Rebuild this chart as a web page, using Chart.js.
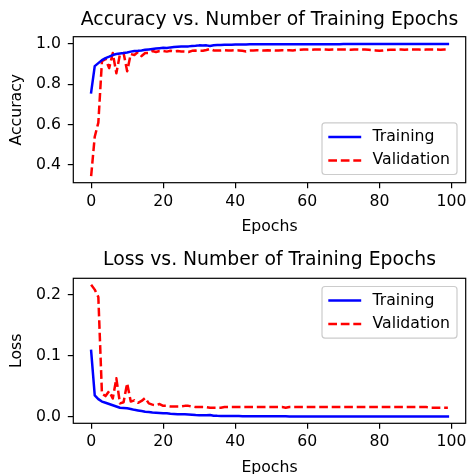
<!DOCTYPE html>
<html><head><meta charset="utf-8">
<script src="https://cdn.jsdelivr.net/npm/chart.js@4.4.1/dist/chart.umd.min.js"></script>
<style>
html,body{margin:0;padding:0;background:#fff;overflow:hidden;width:467px;height:474px;}
canvas{position:absolute;left:0;}
#accChart{top:0;}
#lossChart{top:240px;}
</style></head><body>
<canvas id="accChart" width="467" height="237"></canvas>
<canvas id="lossChart" width="467" height="240"></canvas>
<script>
// ---------------- DATA ----------------
const epochs = Array.from({length: 100}, (_, i) => i);

const trainAcc = [
  0.760, 0.890, 0.905, 0.920, 0.930, 0.937, 0.945, 0.950, 0.953, 0.955,
  0.958, 0.962, 0.965, 0.966, 0.968, 0.971, 0.973, 0.975, 0.977, 0.979,
  0.981, 0.980, 0.983, 0.985, 0.986, 0.987, 0.987, 0.988, 0.990, 0.991,
  0.993, 0.992, 0.993, 0.990, 0.994, 0.995, 0.995, 0.996, 0.996, 0.996,
  0.997, 0.997, 0.997, 0.997, 0.998, 0.998, 0.998, 0.998, 0.998, 0.998,
  0.998, 0.999, 0.999, 0.999, 0.999, 0.999, 0.999, 0.999, 0.999, 0.999,
  0.999, 0.999, 0.999, 0.999, 0.999, 0.999, 0.999, 0.999, 0.999, 0.999,
  1.000, 1.000, 1.000, 1.000, 1.000, 1.000, 1.000, 1.000, 1.000, 1.000,
  1.000, 1.000, 1.000, 1.000, 1.000, 1.000, 1.000, 1.000, 1.000, 1.000,
  1.000, 1.000, 1.000, 1.000, 1.000, 1.000, 1.000, 1.000, 1.000, 1.000
];
const valAcc = [
  0.345, 0.540, 0.610, 0.915, 0.925, 0.880, 0.955, 0.855, 0.950, 0.955,
  0.865, 0.950, 0.945, 0.960, 0.940, 0.955, 0.955, 0.965, 0.960, 0.965,
  0.965, 0.962, 0.966, 0.963, 0.965, 0.963, 0.962, 0.960, 0.966, 0.967,
  0.966, 0.966, 0.970, 0.975, 0.968, 0.967, 0.968, 0.969, 0.967, 0.968,
  0.969, 0.968, 0.966, 0.963, 0.967, 0.968, 0.969, 0.968, 0.967, 0.969,
  0.968, 0.967, 0.968, 0.969, 0.968, 0.969, 0.968, 0.970, 0.971, 0.972,
  0.972, 0.971, 0.972, 0.972, 0.973, 0.972, 0.971, 0.972, 0.972, 0.972,
  0.972, 0.972, 0.971, 0.972, 0.973, 0.972, 0.972, 0.971, 0.970, 0.968,
  0.966, 0.968, 0.970, 0.971, 0.971, 0.972, 0.972, 0.971, 0.972, 0.972,
  0.972, 0.972, 0.971, 0.972, 0.972, 0.972, 0.972, 0.971, 0.972, 0.972
];
const trainLoss = [
  0.108, 0.035, 0.029, 0.025, 0.023, 0.021, 0.019, 0.017, 0.015, 0.0145,
  0.014, 0.013, 0.0115, 0.0105, 0.0095, 0.0085, 0.0078, 0.0070, 0.0068, 0.0065,
  0.0060, 0.0058, 0.0052, 0.0048, 0.0044, 0.0042, 0.0043, 0.0040, 0.0036, 0.0030,
  0.0026, 0.0025, 0.0025, 0.0032, 0.0020, 0.0017, 0.0016, 0.0015, 0.0014, 0.0014,
  0.0013, 0.0013, 0.0012, 0.0012, 0.0012, 0.0011, 0.0011, 0.0011, 0.0010, 0.0010,
  0.0010, 0.0009, 0.0009, 0.0009, 0.0009, 0.0008, 0.0008, 0.0008, 0.0008, 0.0008,
  0.0007, 0.0007, 0.0007, 0.0007, 0.0007, 0.0007, 0.0007, 0.0007, 0.0007, 0.0007,
  0.0007, 0.0007, 0.0006, 0.0006, 0.0006, 0.0006, 0.0006, 0.0006, 0.0006, 0.0006,
  0.0006, 0.0006, 0.0006, 0.0006, 0.0006, 0.0006, 0.0006, 0.0006, 0.0006, 0.0006,
  0.0005, 0.0005, 0.0005, 0.0005, 0.0005, 0.0005, 0.0005, 0.0005, 0.0005, 0.0005
];
const valLoss = [
  0.216, 0.208, 0.196, 0.038, 0.034, 0.042, 0.030, 0.063, 0.022, 0.024,
  0.055, 0.025, 0.027, 0.023, 0.026, 0.031, 0.022, 0.020, 0.019, 0.021,
  0.018, 0.018, 0.017, 0.017, 0.017, 0.017, 0.018, 0.018, 0.017, 0.016,
  0.016, 0.016, 0.016, 0.015, 0.015, 0.015, 0.015, 0.016, 0.016, 0.016,
  0.016, 0.016, 0.016, 0.016, 0.016, 0.016, 0.016, 0.016, 0.016, 0.016,
  0.016, 0.016, 0.016, 0.016, 0.015, 0.016, 0.016, 0.016, 0.016, 0.016,
  0.016, 0.016, 0.016, 0.016, 0.016, 0.016, 0.016, 0.016, 0.016, 0.016,
  0.016, 0.016, 0.016, 0.016, 0.016, 0.016, 0.016, 0.016, 0.016, 0.016,
  0.016, 0.016, 0.016, 0.016, 0.016, 0.016, 0.016, 0.016, 0.016, 0.016,
  0.016, 0.016, 0.016, 0.016, 0.015, 0.015, 0.015, 0.015, 0.015, 0.015
];

const xTicks = [0, 20, 40, 60, 80, 100];
const accTicks = [0.4, 0.6, 0.8, 1.0];
const lossTicks = [0.0, 0.1, 0.2];
const seriesNames = ['Training', 'Validation'];

// ---------------- STYLE ----------------
const FONT = 'DejaVu Sans';
const FS = 15.7;
Chart.defaults.font.family = FONT;
Chart.defaults.font.size = FS;
Chart.defaults.color = '#000';

const framePlugin = {
  id: 'frame',
  afterDatasetsDraw(chart) {
    const {ctx, chartArea: a} = chart;
    ctx.save();
    ctx.strokeStyle = '#000';
    ctx.lineWidth = 1.2;
    ctx.strokeRect(a.left, a.top, a.right - a.left, a.bottom - a.top);
    ctx.restore();
  }
};

const boxLegend = {
  id: 'boxLegend',
  afterDraw(chart, args, opts) {
    const {ctx, chartArea: a} = chart;
    const w = 135, h = 51.6;
    const x = a.right - 8.7 - w;
    const y = opts.corner === 'lower' ? a.bottom - 8.2 - h : a.top + 8.2;
    ctx.save();
    ctx.beginPath();
    ctx.roundRect(x, y, w, h, 3);
    ctx.fillStyle = 'rgba(255,255,255,0.8)';
    ctx.fill();
    ctx.strokeStyle = '#cccccc';
    ctx.lineWidth = 1.2;
    ctx.stroke();
    chart.data.datasets.forEach((ds, i) => {
      const ly = y + 14.1 + i * 23.4;
      ctx.beginPath();
      ctx.setLineDash(ds.borderDash || []);
      ctx.lineCap = 'butt';
      ctx.moveTo(x + 6.3, ly);
      ctx.lineTo(x + 39.2, ly);
      ctx.strokeStyle = ds.borderColor;
      ctx.lineWidth = ds.borderWidth;
      ctx.stroke();
      ctx.setLineDash([]);
      ctx.fillStyle = '#000';
      ctx.font = FS + 'px "' + FONT + '"';
      ctx.textBaseline = 'middle';
      ctx.textAlign = 'left';
      ctx.fillText(ds.label, x + 50.5, ly);
    });
    ctx.restore();
  }
};

function makeChart(id, p) {
  const ctx = document.getElementById(id);
  return new Chart(ctx, {
    type: 'line',
    data: {
      datasets: [
        { label: seriesNames[0], data: epochs.map((e, i) => ({x: e, y: p.train[i]})),
          borderColor: '#0000ff', borderWidth: 2.5, pointRadius: 0, tension: 0,
          borderJoinStyle: 'round', borderCapStyle: 'square', fill: false },
        { label: seriesNames[1], data: epochs.map((e, i) => ({x: e, y: p.val[i]})),
          borderColor: '#ff0000', borderWidth: 2.5, borderDash: [8.7, 3.8], pointRadius: 0, tension: 0,
          borderJoinStyle: 'round', borderCapStyle: 'butt', fill: false }
      ]
    },
    options: {
      responsive: false,
      animation: false,
      devicePixelRatio: 1,
      layout: { padding: { left: 0, right: 1.3, top: 0, bottom: 0 } },
      plugins: {
        legend: { display: false },
        tooltip: { enabled: false },
        title: {
          display: true, text: p.title, fullSize: false,
          font: { size: 18.8, weight: 'normal', family: FONT, lineHeight: 1.2 },
          color: '#000',
          padding: { top: p.titleTop, bottom: p.titleBottom }
        },
        boxLegend: { corner: p.corner }
      },
      scales: {
        x: {
          type: 'linear', min: -4.95, max: 103.95,
          afterBuildTicks: (ax) => { ax.ticks = xTicks.map(v => ({value: v})); },
          afterFit: (ax) => { ax.height = p.xHeight; ax.paddingLeft = 0; ax.paddingRight = 0; },
          ticks: { padding: 3.9, maxRotation: 0, autoSkip: false, color: '#000',
                   callback: (v) => String(v) },
          grid: { drawOnChartArea: false, drawTicks: true, tickLength: 5.5, color: '#000', lineWidth: 1.2 },
          border: { display: false },
          title: { display: true, text: 'Epochs', color: '#000',
                   font: { size: FS, family: FONT, lineHeight: 1.2 },
                   padding: { top: 0, bottom: p.xTitleBottom } }
        },
        y: {
          type: 'linear', min: p.yMin, max: p.yMax,
          afterBuildTicks: (ax) => { ax.ticks = p.yTicks.map(v => ({value: v})); },
          afterFit: (ax) => { ax.width = 73.3; ax.paddingTop = 0; ax.paddingBottom = 0; },
          ticks: { padding: 6.8, autoSkip: false, color: '#000',
                   callback: (v) => Number(v).toFixed(1) },
          grid: { drawOnChartArea: false, drawTicks: true, tickLength: 5.5, color: '#000', lineWidth: 1.2 },
          border: { display: false },
          title: { display: true, text: p.yLabel, color: '#000',
                   font: { size: FS, family: FONT, lineHeight: 1.2 },
                   padding: { top: 7.7, bottom: 0 } }
        }
      }
    },
    plugins: [framePlugin, boxLegend]
  });
}

makeChart('accChart', {
  train: trainAcc, val: valAcc,
  title: 'Accuracy vs. Number of Training Epochs', yLabel: 'Accuracy',
  yMin: 0.312, yMax: 1.036, yTicks: accTicks,
  titleTop: 8.6, titleBottom: 5.54, xHeight: 54.3, xTitleBottom: 0.2,
  corner: 'lower'
});
makeChart('lossChart', {
  train: trainLoss, val: valLoss,
  title: 'Loss vs. Number of Training Epochs', yLabel: 'Loss',
  yMin: -0.0105, yMax: 0.2265, yTicks: lossTicks,
  titleTop: 9.2, titleBottom: 6.54, xHeight: 56.7, xTitleBottom: 2.6,
  corner: 'upper'
});
</script>
</body></html>
